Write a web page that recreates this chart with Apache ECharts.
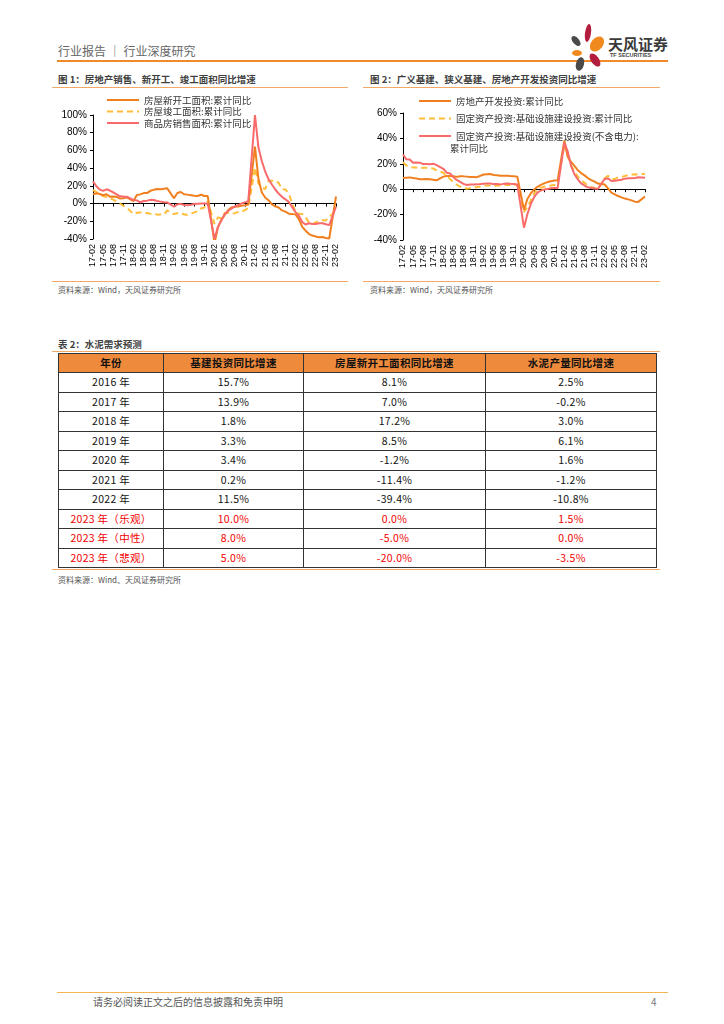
<!DOCTYPE html>
<html><head><meta charset="utf-8">
<script src="https://cdn.jsdelivr.net/npm/echarts/dist/echarts.min.js"></script>
<style>
html,body{margin:0;padding:0;background:#fff;}
#page{position:relative;width:724px;height:1024px;overflow:hidden;font-family:"Noto Sans CJK SC","Noto Sans",sans-serif;}
.abs{position:absolute;}
.ttl{font-size:9.5px;font-weight:bold;color:#404040;white-space:nowrap;}
.src{font-size:8px;color:#555;white-space:nowrap;}
.oline{height:1px;background:#F4A867;}
table{border-collapse:collapse;table-layout:fixed;}
td,th{border:1px solid #333;text-align:center;padding:0;font-size:10.5px;height:18.5px;line-height:18px;color:#111;white-space:nowrap;letter-spacing:0.3px;}
th{background:#EE8A3C;font-weight:bold;height:18px;}
tr.red td{color:#F20000;}
</style>
</head><body>
<div id="page">
  <div class="abs" style="left:58px;top:42px;font-size:12px;color:#666;">行业报告 ｜ 行业深度研究</div>
  <div class="abs" style="left:57px;top:60px;width:611px;height:2px;background:#F08A2B;"></div>
  <svg class="abs" style="left:566px;top:22px;" width="44" height="50" viewBox="0 0 44 50">
    <ellipse cx="22" cy="11" rx="3" ry="9" fill="#B31E3E" transform="rotate(8 22 11)"/>
    <ellipse cx="10" cy="19" rx="3.2" ry="6" fill="#4A4A4A" transform="rotate(-40 10 19)"/>
    <ellipse cx="31" cy="22" rx="6" ry="8.5" fill="#F18A1E" transform="rotate(40 31 22)"/>
    <ellipse cx="11" cy="31" rx="5" ry="3" fill="#F18A1E"/>
    <ellipse cx="14" cy="42" rx="4" ry="7" fill="#4A4A4A" transform="rotate(15 14 42)"/>
    <ellipse cx="29" cy="38" rx="4" ry="7.5" fill="#B31E3E" transform="rotate(-35 29 38)"/>
  </svg>
  <div class="abs" style="left:608px;top:33px;font-size:15px;font-weight:bold;color:#3A3A3A;">天风证券</div>
  <div class="abs" style="left:610px;top:52px;font-size:5.5px;font-weight:bold;color:#444;font-family:'Liberation Sans';">TF SECURITIES</div>

  <div class="abs ttl" style="left:58px;top:72px;">图 1：房地产销售、新开工、竣工面积同比增速</div>
  <div class="abs oline" style="left:52px;top:87px;width:296px;"></div>
  <div class="abs ttl" style="left:370px;top:72px;">图 2：广义基建、狭义基建、房地产开发投资同比增速</div>
  <div class="abs oline" style="left:363px;top:87px;width:297px;"></div>

  <div id="c1" class="abs" style="left:50px;top:90px;width:300px;height:190px;"></div>
  <div id="c2" class="abs" style="left:360px;top:90px;width:305px;height:190px;"></div>

  <div class="abs oline" style="left:52px;top:281px;width:296px;"></div>
  <div class="abs src" style="left:58px;top:284px;">资料来源：Wind，天风证券研究所</div>
  <div class="abs oline" style="left:363px;top:281px;width:297px;"></div>
  <div class="abs src" style="left:370px;top:284px;">资料来源：Wind，天风证券研究所</div>

  <div class="abs ttl" style="left:58px;top:337px;">表 2：水泥需求预测</div>
  <div class="abs oline" style="left:52px;top:351px;width:608px;"></div>
  <div class="abs" style="left:58px;top:353px;" id="tblwrap"></div>
  <div class="abs oline" style="left:52px;top:569px;width:608px;"></div>
  <div class="abs src" style="left:58px;top:574px;">资料来源：Wind、天风证券研究所</div>

  <div class="abs" style="left:57px;top:992px;width:611px;height:1px;background:#F3B451;"></div>
  <div class="abs" style="left:93px;top:994px;font-size:10px;color:#555;">请务必阅读正文之后的信息披露和免责申明</div>
  <div class="abs" style="left:651px;top:994px;font-size:10px;color:#777;">4</div>
</div>
<script>
// ---------- categories ----------
var months = [
 '17-02','17-03','17-04','17-05','17-06','17-07','17-08','17-09','17-10','17-11','17-12',
 '18-01','18-02','18-03','18-04','18-05','18-06','18-07','18-08','18-09','18-10','18-11','18-12',
 '19-01','19-02','19-03','19-04','19-05','19-06','19-07','19-08','19-09','19-10','19-11','19-12',
 '20-01','20-02','20-03','20-04','20-05','20-06','20-07','20-08','20-09','20-10','20-11','20-12',
 '21-01','21-02','21-03','21-04','21-05','21-06','21-07','21-08','21-09','21-10','21-11','21-12',
 '22-01','22-02','22-03','22-04','22-05','22-06','22-07','22-08','22-09','22-10','22-11','22-12',
 '23-01','23-02'];

// ---------- chart 1 series ----------
var newStartYoY = [
 10.4,11.6,10.8,9.4,10.6,7.8,8.0,7.5,5.6,6.1,7.0,
 null,2.9,9.7,10.4,11.8,11.8,14.4,15.5,16.4,16.3,16.8,17.2,
 null,6.0,11.9,13.1,10.5,10.1,9.5,8.9,8.6,10.0,8.6,8.5,
 null,-44.9,-27.2,-18.4,-12.8,-7.6,-4.5,-3.6,-3.4,-2.6,-2.0,-1.2,
 null,64.3,28.2,12.8,6.9,3.8,-0.9,-3.2,-4.5,-7.7,-9.1,-11.4,
 null,-12.2,-17.5,-26.3,-30.6,-34.4,-36.1,-37.2,-38.0,-37.8,-38.9,-39.4,
 null,8.0];
var completedYoY = [
 15.5,13.0,10.5,8.5,7.5,6.0,4.5,2.0,0.0,-2.5,-4.4,
 null,-11.8,-10.4,-10.0,-10.5,-10.6,-11.6,-11.0,-12.5,-12.3,-12.3,-7.8,
 null,-11.9,-10.8,-10.3,-12.4,-12.7,-11.3,-10.0,-8.6,-5.5,-4.5,2.6,
 null,-22.9,-15.8,-16.4,-10.6,-10.5,-11.3,-10.8,-9.5,-9.2,-7.3,-4.9,
 null,40.4,22.9,17.9,16.4,25.7,25.7,26.0,23.4,16.3,16.0,11.2,
 null,-9.8,-11.5,-11.9,-15.3,-21.5,-23.3,-21.1,-19.9,-18.7,-19.0,-15.0,
 null,-8.0];
var salesYoY = [
 25.1,19.5,15.7,14.3,16.1,14.7,12.7,10.3,8.2,7.9,7.7,
 null,4.1,3.6,1.3,2.9,3.3,4.2,4.0,2.9,2.2,1.4,1.3,
 null,-3.6,-0.9,-0.3,-1.6,-1.8,-1.3,-0.6,-0.1,0.1,0.2,-0.1,
 null,-39.9,-26.3,-19.3,-12.3,-8.4,-5.8,-3.3,-1.8,0.0,1.3,2.6,
 null,100.0,63.8,48.1,36.3,27.7,21.5,15.9,11.3,7.6,4.8,1.9,
 null,-9.6,-13.8,-20.9,-23.6,-22.2,-23.1,-23.0,-22.2,-22.3,-23.3,-24.3,
 null,-3.6];

// ---------- chart 2 series ----------
var reInvestYoY = [
 8.9,9.1,9.3,8.8,8.5,7.9,7.9,8.1,7.8,7.5,7.0,
 null,9.9,10.4,10.3,10.2,9.7,10.2,10.1,9.9,9.7,9.7,9.5,
 null,11.6,11.8,11.9,11.2,10.9,10.6,10.5,10.5,10.3,10.2,9.9,
 null,-16.3,-7.7,-3.3,-0.3,1.9,3.4,4.6,5.6,6.3,6.8,7.0,
 null,38.3,25.6,21.6,18.3,15.0,12.7,10.9,8.8,7.2,6.0,4.4,
 null,3.7,0.7,-2.7,-4.0,-5.4,-6.4,-7.4,-8.0,-8.8,-9.8,-10.0,
 null,-5.7];
var infraBroadYoY = [
 21.2,18.7,17.4,17.1,17.0,16.5,16.8,16.8,16.5,16.3,14.9,
 null,13.0,10.0,8.0,5.6,3.5,2.0,1.0,0.3,0.8,1.2,1.8,
 null,2.5,3.0,3.0,2.6,2.9,2.9,3.1,3.4,3.3,3.5,3.3,
 null,-18.0,-14.0,-8.8,-3.3,0.1,1.2,2.0,2.4,3.0,3.3,3.4,
 null,35.0,26.8,18.6,14.0,9.9,7.0,5.0,3.0,1.8,1.0,0.2,
 null,8.6,10.5,8.3,7.9,9.3,9.6,10.4,11.2,11.4,11.7,11.5,
 null,12.2];
var infraNarrowYoY = [
 27.3,23.5,23.3,20.9,21.1,20.9,19.8,19.8,19.6,20.1,19.0,
 null,16.1,13.0,12.4,9.4,7.3,5.7,4.2,3.3,3.7,3.7,3.8,
 null,4.3,4.4,4.4,4.0,4.1,3.8,4.2,4.5,4.2,4.0,3.8,
 null,-30.3,-19.7,-11.8,-6.3,-2.7,-1.0,-0.3,0.2,0.7,1.0,0.9,
 null,36.6,29.7,18.4,11.8,7.8,4.6,2.9,1.5,1.0,0.5,0.4,
 null,8.1,8.5,6.5,6.7,7.1,7.4,8.3,8.6,8.7,8.9,9.4,
 null,9.0];

// ---------- table ----------
var tableHeader = ['年份','基建投资同比增速','房屋新开工面积同比增速','水泥产量同比增速'];
var tableYears = ['2016 年','2017 年','2018 年','2019 年','2020 年','2021 年','2022 年','2023 年（乐观）','2023 年（中性）','2023 年（悲观）'];
var infraGrowth = ['15.7%','13.9%','1.8%','3.3%','3.4%','0.2%','11.5%','10.0%','8.0%','5.0%'];
var newStartGrowth = ['8.1%','7.0%','17.2%','8.5%','-1.2%','-11.4%','-39.4%','0.0%','-5.0%','-20.0%'];
var cementGrowth = ['2.5%','-0.2%','3.0%','6.1%','1.6%','-1.2%','-10.8%','1.5%','0.0%','-3.5%'];
var forecastRows = 3;

// build table
(function(){
  var colW = [105,140,182,171];
  var h = '<table style="width:598px"><colgroup>';
  colW.forEach(function(w){ h += '<col style="width:'+w+'px">'; });
  h += '</colgroup><tr>';
  tableHeader.forEach(function(t){ h += '<th>'+t+'</th>'; });
  h += '</tr>';
  for (var i=0;i<tableYears.length;i++){
    var red = i >= tableYears.length - forecastRows;
    var extra = (i === tableYears.length - forecastRows - 1) ? ' style="border-bottom:1.5px solid #000"' : '';
    h += '<tr'+(red?' class="red"':'')+extra+'><td>'+tableYears[i]+'</td><td>'+infraGrowth[i]+'</td><td>'+newStartGrowth[i]+'</td><td>'+cementGrowth[i]+'</td></tr>';
  }
  h += '</table>';
  document.getElementById('tblwrap').innerHTML = h;
})();

var C_ORANGE = '#F0801F', C_YELLOW = '#FFBD3A', C_RED = '#F96B6B';

function lineSeries(name, data, color, dashed){
  return {
    name: name, type: 'line', data: data, symbol: 'circle', showSymbol: false, connectNulls: true,
    xAxisIndex: 0, yAxisIndex: 0,
    lineStyle: {color: color, width: 2, type: dashed ? [6,4] : 'solid'},
    itemStyle: {color: color}, z: dashed ? 2 : 3
  };
}

function makeOption(cfg){
  return {
    animation: false,
    textStyle: {fontFamily: 'Liberation Sans'},
    grid: {left: cfg.left, top: cfg.top, width: cfg.width, height: cfg.height, containLabel: false},
    legend: {
      orient: 'vertical', left: cfg.legLeft, top: cfg.legTop,
      itemWidth: 32, itemHeight: 10, itemGap: cfg.legGap,
      itemStyle: {opacity: 0},
      textStyle: {fontFamily: 'Noto Sans CJK SC', fontSize: 9.5, color: '#333', lineHeight: 10},
      data: cfg.series.map(function(s){ return s.name; })
    },
    xAxis: [
      {type: 'category', data: months, boundaryGap: false, position: 'bottom',
       axisLine: {show: false, onZero: false}, axisTick: {show: false},
       axisLabel: {interval: 2, rotate: 90, fontSize: 9, color: '#000', margin: 5, fontFamily: 'Liberation Sans'}},
      {type: 'category', data: months, boundaryGap: false, position: 'bottom',
       axisLine: {show: true, onZero: true, lineStyle: {color: '#000', width: 1}},
       axisTick: {show: true, interval: 2, length: 3, lineStyle: {color: '#000'}},
       axisLabel: {show: false}}
    ],
    yAxis: {
      type: 'value', min: cfg.min, max: cfg.max, interval: 20,
      axisLine: {show: true, lineStyle: {color: '#000', width: 1}},
      axisTick: {show: true, length: 3, lineStyle: {color: '#000'}},
      splitLine: {show: false},
      axisLabel: {formatter: '{value}%', fontSize: 10, color: '#000', margin: 6, fontFamily: 'Liberation Sans'}
    },
    graphic: cfg.graphic || [],
    series: cfg.series
  };
}

var chart1 = echarts.init(document.getElementById('c1'), null, {renderer: 'canvas'});
chart1.setOption(makeOption({
  left: 43, top: 25, width: 243, height: 124, min: -40, max: 100,
  legLeft: 51, legTop: 0, legGap: 1.5,
  series: [
    lineSeries('房屋新开工面积:累计同比', newStartYoY, C_ORANGE, false),
    lineSeries('房屋竣工面积:累计同比', completedYoY, C_YELLOW, true),
    lineSeries('商品房销售面积:累计同比', salesYoY, C_RED, false)
  ]
}));

var chart2 = echarts.init(document.getElementById('c2'), null, {renderer: 'canvas'});
chart2.setOption(makeOption({
  left: 43, top: 23, width: 242, height: 127, min: -40, max: 60,
  legLeft: 53, legTop: 1, legGap: 7.5,
  graphic: [{type: 'text', left: 90, top: 54, style: {text: '累计同比', fontFamily: 'Noto Sans CJK SC', fontSize: 9.5, fill: '#333'}}],
  series: [
    lineSeries('房地产开发投资:累计同比', reInvestYoY, C_ORANGE, false),
    lineSeries('固定资产投资:基础设施建设投资:累计同比', infraBroadYoY, C_YELLOW, true),
    lineSeries('固定资产投资:基础设施建设投资(不含电力):', infraNarrowYoY, C_RED, false)
  ]
}));
</script>
</body></html>
